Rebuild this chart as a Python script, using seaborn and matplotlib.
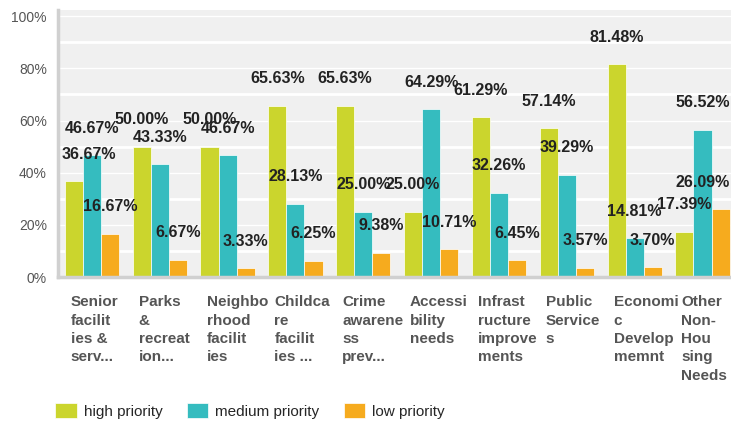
import seaborn as sns
import pandas as pd
import matplotlib.pyplot as plt

# chart data
categories = ["Senior\nfacilit\nies &\nserv...", "Parks\n&\nrecreat\nion...",
              "Neighbo\nrhood\nfacilit\nies", "Childca\nre\nfacilit\nies ...",
              "Crime\nawarene\nss\nprev...", "Accessi\nbility\nneeds",
              "Infrast\nructure\nimprove\nments", "Public\nService\ns",
              "Economi\nc\nDevelop\nmemnt", "Other\nNon-\nHou\nsing\nNeeds"]
high = [36.67, 50.00, 50.00, 65.63, 65.63, 25.00, 61.29, 57.14, 81.48, 17.39]
medium = [46.67, 43.33, 46.67, 28.13, 25.00, 64.29, 32.26, 39.29, 14.81, 56.52]
low = [16.67, 6.67, 3.33, 6.25, 9.38, 10.71, 6.45, 3.57, 3.70, 26.09]
series = ["high priority", "medium priority", "low priority"]
colors = ["#cbd52d", "#35bcbf", "#f6ab1e"]
yticks = [0, 20, 40, 60, 80, 100]

rows = []
for name, vals in zip(series, [high, medium, low]):
    for cat, v in zip(categories, vals):
        rows.append({"category": cat, "priority": name, "value": v})
df = pd.DataFrame(rows)

sns.set_style("whitegrid", {"axes.facecolor": "#f0f0f0", "grid.color": "white",
                            "axes.edgecolor": "#d0d0d0"})
plt.rcParams['font.family'] = ['Liberation Sans', 'DejaVu Sans']

fig = plt.figure(figsize=(7.31, 4.23), dpi=100)
ax = fig.add_axes([0.0793, 0.345, 0.9207, 0.631])

sns.barplot(data=df, x="category", y="value", hue="priority", palette=colors,
            width=0.8, saturation=1, ax=ax, legend=True, linewidth=0.5, edgecolor="white")

labels_txt = []
for cont in ax.containers:
    labels_txt += ax.bar_label(cont, labels=[f"{b.get_height():.2f}%" for b in cont],
                               padding=14, fontsize=11.5, fontweight="bold", color="#222222")

ax.set_ylim(0, 102.3)
ax.set_xlim(-0.5, 9.42)
ax.set_yticks(yticks, [f"{t}%" for t in yticks])
ax.set_yticks(range(10, 100, 20), minor=True)
ax.grid(True, axis="y", which="major", color="white", linewidth=1.0)
ax.grid(True, axis="y", which="minor", color="white", linewidth=2.0)
ax.grid(False, axis="x")
ax.tick_params(axis="y", which="both", length=0, pad=8, labelsize=10, labelcolor="#555555")

ax.set_xticks([i - 0.31 for i in range(len(categories))], categories,
              ha="left", fontsize=11, fontweight="bold", color="#555555", linespacing=1.4)
ax.tick_params(axis="x", length=0, pad=13)
ax.set_xlabel("")
ax.set_ylabel("")

for s in ["top", "right"]:
    ax.spines[s].set_visible(False)
for s in ["left", "bottom"]:
    ax.spines[s].set_color("#d0d0d0")
    ax.spines[s].set_linewidth(2.5)

# keep value labels inside the plot panel
fig.canvas.draw()
renderer = fig.canvas.get_renderer()
ax_box = ax.get_window_extent(renderer)
for t in labels_txt:
    bb = t.get_window_extent(renderer)
    dx = 0
    if bb.x0 < ax_box.x0 + 4:
        dx = ax_box.x0 + 4 - bb.x0
    elif bb.x1 > ax_box.x1 - 1:
        dx = ax_box.x1 - 1 - bb.x1
    if dx:
        ox, oy = t.xyann
        t.xyann = (ox + dx * 72 / fig.dpi, oy)

handles, labels = ax.get_legend_handles_labels()
ax.legend_.remove()
fig.legend(handles, labels, loc="center left", bbox_to_anchor=(0.057, 0.028),
           ncol=3, frameon=False, fontsize=11, handlelength=1.4, handleheight=1.1,
           handletextpad=0.45, columnspacing=1.6)

fig.savefig("out.png", dpi=100)
